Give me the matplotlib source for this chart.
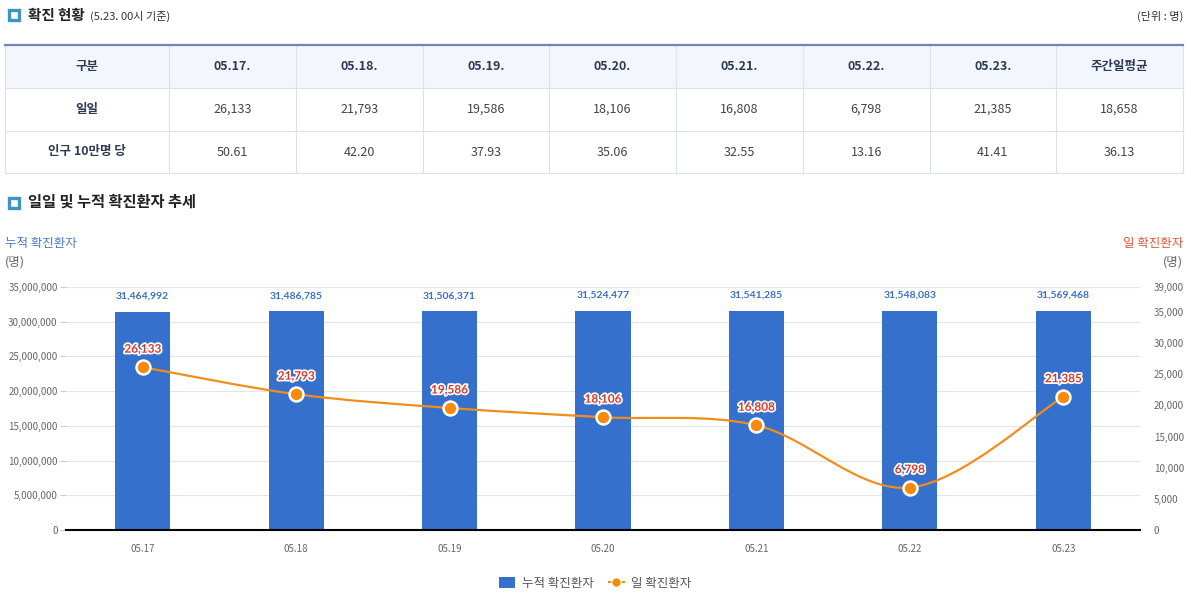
import matplotlib.pyplot as plt
import matplotlib.patheffects as pe
from matplotlib.patches import Rectangle, PathPatch
from matplotlib.path import Path
from matplotlib.lines import Line2D

plt.rcParams['font.family'] = ['Noto Sans CJK KR', 'DejaVu Sans']

# data
dates = ['05.17', '05.18', '05.19', '05.20', '05.21', '05.22', '05.23']
daily = [26133, 21793, 19586, 18106, 16808, 6798, 21385]
cumulative = [31464992, 31486785, 31506371, 31524477, 31541285, 31548083, 31569468]
per_100k = [50.61, 42.20, 37.93, 35.06, 32.55, 13.16, 41.41]
weekly_avg_daily = 18658
weekly_avg_per_100k = 36.13

left_ticks = [0, 5000000, 10000000, 15000000, 20000000, 25000000, 30000000, 35000000]
right_ticks = [0, 5000, 10000, 15000, 20000, 25000, 30000, 35000, 39000]

W, H = 1191, 603
fig = plt.figure(figsize=(W / 100, H / 100), dpi=100)

# pixel-space overlay for header and table
pax = fig.add_axes([0, 0, 1, 1])
pax.set_xlim(0, W)
pax.set_ylim(H, 0)
pax.axis('off')

icon_color = '#3d95c4'
navy = '#2f3b55'


def icon(y):
    pax.add_patch(Rectangle((9, y - 5), 10, 10, facecolor='white',
                            edgecolor=icon_color, linewidth=2.4))


icon(15)
pax.text(28, 15, '확진 현황', fontsize=10.5, fontweight='bold', color='#222222', va='center')
pax.text(90, 16, '(5.23. 00시 기준)', fontsize=8, color='#333333', va='center')
pax.text(1183, 16, '(단위 : 명)', fontsize=8, color='#333333', va='center', ha='right')

# table
col_edges = [5, 169] + [169 + (1183 - 169) / 8 * (i + 1) for i in range(8)]
row_edges = [45, 88, 131, 173]
header = ['구분'] + [d + '.' for d in dates] + ['주간일평균']
rows = [
    ['일일'] + [f'{v:,}' for v in daily] + [f'{weekly_avg_daily:,}'],
    ['인구 10만명 당'] + [f'{v:.2f}' for v in per_100k] + [f'{weekly_avg_per_100k:.2f}'],
]
pax.add_patch(Rectangle((col_edges[0], row_edges[0]), col_edges[-1] - col_edges[0],
                        row_edges[1] - row_edges[0], facecolor='#f3f7fd', edgecolor='none'))
for x in col_edges:
    pax.plot([x, x], [row_edges[0], row_edges[-1]], color='#dde1e8', lw=0.8)
for y in row_edges[1:]:
    pax.plot([col_edges[0], col_edges[-1]], [y, y], color='#dde1e8', lw=0.8)
pax.plot([col_edges[0], col_edges[-1]], [row_edges[0], row_edges[0]], color='#6f86b6', lw=1.6)

for r, cells in enumerate([header] + rows):
    yc = (row_edges[r] + row_edges[r + 1]) / 2
    for c, txt in enumerate(cells):
        xc = (col_edges[c] + col_edges[c + 1]) / 2
        bold = r == 0 or c == 0
        pax.text(xc, yc, txt, ha='center', va='center', fontsize=9,
                 fontweight='bold' if bold else 'normal',
                 color=navy if bold else '#444444')

icon(203)
pax.text(28, 202, '일일 및 누적 확진환자 추세', fontsize=11, fontweight='bold',
         color='#222222', va='center')

pax.text(5, 244, '누적 확진환자', fontsize=9, color='#4a7bc9', va='center')
pax.text(5, 262, '(명)', fontsize=9, color='#666666', va='center')
pax.text(1183, 244, '일 확진환자', fontsize=9, color='#e0583a', va='center', ha='right')
pax.text(1183, 262, '(명)', fontsize=9, color='#666666', va='center', ha='right')

# chart
ax = fig.add_axes([66 / W, 1 - 530 / H, 1074 / W, 243 / H])
ax.patch.set_alpha(0)
x = list(range(len(dates)))
bar_color = '#3570cc'
ax.bar(x, cumulative, width=0.36, color=bar_color, zorder=2)
ax.set_xlim(-0.5, len(dates) - 0.5)
ax.set_ylim(0, 35000000)
ax.set_yticks(left_ticks)
ax.set_yticklabels([f'{v:,}' for v in left_ticks])
ax.set_xticks(x)
ax.set_xticklabels(dates)
ax.grid(axis='y', color='#e4e4e4', lw=0.8, zorder=0)
ax.set_axisbelow(True)
for s in ['left', 'right', 'top']:
    ax.spines[s].set_visible(False)
ax.spines['bottom'].set_color('black')
ax.spines['bottom'].set_linewidth(1.5)
ax.spines['bottom'].set_zorder(5)
ax.tick_params(axis='y', length=4, width=0.8, color='#cccccc', pad=2,
               labelsize=7, labelcolor='#666666')
ax.tick_params(axis='x', length=0, pad=10, labelsize=7, labelcolor='#666666')

for xi, v in zip(x, cumulative):
    ax.annotate(f'{v:,}', (xi, v), xytext=(0, 8), textcoords='offset points',
                ha='center', va='bottom', fontsize=7.5, fontweight='bold',
                color='#3b6fc4', family=['Lato', 'DejaVu Sans'])

ax2 = ax.twinx()
ax2.set_ylim(0, 39000)
ax2.set_yticks(right_ticks)
ax2.set_yticklabels([f'{v:,}' for v in right_ticks])
for s in ax2.spines.values():
    s.set_visible(False)
ax2.tick_params(axis='y', length=0, pad=10, labelsize=7, labelcolor='#666666')

line_color = '#f28c1c'


def smooth_path(xs, ys, k=1 / 6):
    verts = [(xs[0], ys[0])]
    codes = [Path.MOVETO]
    n = len(xs)
    for i in range(n - 1):
        i0 = max(i - 1, 0)
        i3 = min(i + 2, n - 1)
        c1 = (xs[i] + (xs[i + 1] - xs[i0]) * k, ys[i] + (ys[i + 1] - ys[i0]) * k)
        c2 = (xs[i + 1] - (xs[i3] - xs[i]) * k, ys[i + 1] - (ys[i3] - ys[i]) * k)
        verts += [c1, c2, (xs[i + 1], ys[i + 1])]
        codes += [Path.CURVE4] * 3
    return Path(verts, codes)


ax2.add_patch(PathPatch(smooth_path(x, daily), facecolor='none',
                        edgecolor=line_color, lw=1.6, zorder=3))
ax2.plot(x, daily, linestyle='none', marker='o', markersize=10,
         markerfacecolor='#f78a0c', markeredgecolor='white', markeredgewidth=1.8, zorder=4)
for xi, v in zip(x, daily):
    ax2.annotate(f'{v:,}', (xi, v), xytext=(0, 9), textcoords='offset points',
                 ha='center', va='bottom', fontsize=8.5, fontweight='bold',
                 color='#d8392b', family=['Lato', 'DejaVu Sans'], zorder=5,
                 path_effects=[pe.withStroke(linewidth=2.5, foreground='white')])

handles = [
    Rectangle((0, 0), 1, 1, facecolor=bar_color),
    Line2D([], [], color=line_color, linestyle='--', lw=1.6, marker='o',
           markersize=7, markerfacecolor='#f78a0c', markeredgecolor='white'),
]
fig.legend(handles, ['누적 확진환자', '일 확진환자'], loc='center',
           bbox_to_anchor=(595 / W, 1 - 583 / H), ncol=2, frameon=False,
           fontsize=9, labelcolor='#555555', handlelength=1.3,
           handleheight=1.0, columnspacing=1.2, handletextpad=0.5)

fig.savefig('out.png', dpi=100)
